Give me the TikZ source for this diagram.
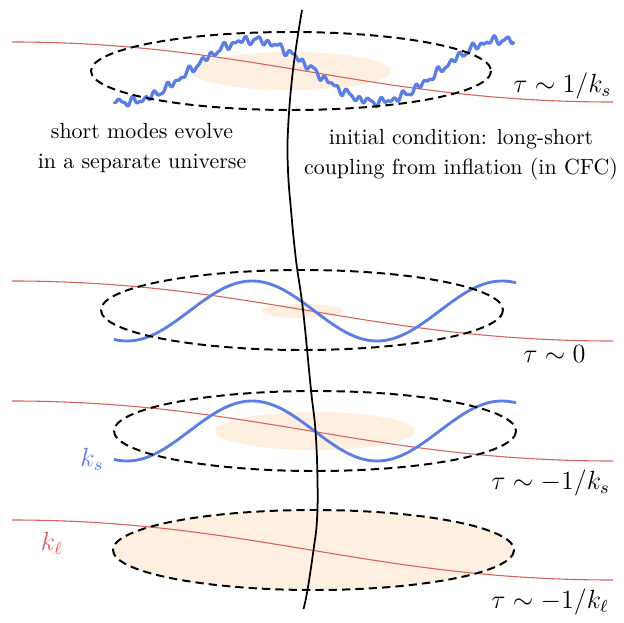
\documentclass[tikz,border=0pt]{standalone}
\usepackage{amsmath}
\definecolor{wavblue}{RGB}{90,125,230}
\definecolor{modred}{RGB}{214,100,90}
\definecolor{patch}{RGB}{254,239,225}
\begin{document}
\begin{tikzpicture}[x=0.4566pt,y=-0.4566pt,
  redline/.style={draw=modred,line width=0.5pt},
  bluewave/.style={draw=wavblue,line width=1.3pt,line join=round},
  slice/.style={draw=black,line width=0.9pt,dash pattern=on 3.8pt off 2.3pt},
  patchfill/.style={fill=patch,draw=none},
  lbl/.style={font=\large,anchor=west,inner sep=0pt},
  txt/.style={align=center,inner sep=0pt}]
\useasboundingbox (0,0) rectangle (623,623);
% orange patches
\fill[patchfill] (291,71) ellipse [x radius=100, y radius=19];
\fill[patchfill] (302,311) ellipse [x radius=41, y radius=7];
\fill[patchfill] (315,431) ellipse [x radius=100, y radius=19];
\fill[patchfill] (313.5,550) ellipse [x radius=200.5, y radius=40];
% red long modes
\foreach \yy in {42,281,401,520}{
  \draw[redline] (12,\yy) .. controls (250,\yy) and (370,\yy+60) .. (613,\yy+60);
}
% blue short modes
\draw[bluewave,line width=1.5pt] plot[domain=114:514, samples=500, variable=\t]
  (\t, {71 - 31*cos(1.44*(\t-252)) + 2.4*sin(mod(\t,11.3)*31.86) + 1.5*sin(mod(\t,7.1)*50.70+40) + 1.6*sin(mod(\t,17.9)*20.11+100)});
\draw[bluewave] plot[domain=114:516, samples=150, variable=\t]
  (\t, {311 - 30*cos(1.44*(\t-252))});
\draw[bluewave] plot[domain=114:516, samples=150, variable=\t]
  (\t, {431 - 30*cos(1.44*(\t-252))});
% dashed slices
\draw[slice] (291,71) ellipse [x radius=200, y radius=39];
\draw[slice] (302,310) ellipse [x radius=201, y radius=40];
\draw[slice] (315,431) ellipse [x radius=201, y radius=40];
\draw[slice] (313.5,550) ellipse [x radius=200.5, y radius=40];
% black worldline
\draw[black,line width=0.8pt] plot[smooth,tension=0.7] coordinates
  {(302,10) (293,70) (288,130) (288,170) (291,210) (296,260) (303,310) (311,390) (315.5,431) (317.5,480) (317,520) (313.5,550) (307.5,590) (303.5,609)};
% labels
\node[lbl] (t1) at (513,86) {$\tau\sim 1/k_s$};
\node[lbl] (t2) at (523,354) {$\tau\sim 0$};
\node[lbl] (t3) at (491,483) {$\tau\sim -1/k_s$};
\node[lbl] (t4) at (491,602) {$\tau\sim -1/k_\ell$};
\node[text=wavblue,inner sep=0pt,font=\large] (ks) at (92,459) {$k_s$};
\node[text=modred,inner sep=0pt,font=\large] (kl) at (52,543) {$k_\ell$};
\node[txt] (left) at (142,148) {short modes evolve\\[1.8pt] in a separate universe};
\node[txt] (right) at (461,155) {initial condition: long-short\\[1.8pt] coupling from inflation (in CFC)};
\end{tikzpicture}
\end{document}
